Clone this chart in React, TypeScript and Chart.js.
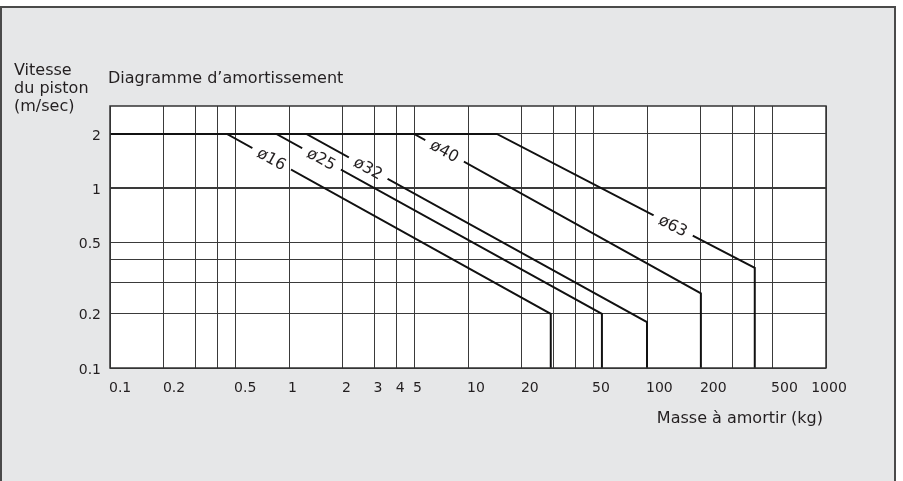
import React, { useEffect, useRef } from "react";
import { Chart, registerables } from "chart.js";

Chart.register(...registerables);

// ---- Data ----
const massGrid = [0.1, 0.2, 0.3, 0.4, 0.5, 1, 2, 3, 4, 5, 10, 20, 30, 40, 50, 100, 200, 300, 400, 500, 1000];
const massLabelValues = [0.1, 0.2, 0.5, 1, 2, 3, 4, 5, 10, 20, 50, 100, 200, 500, 1000];
const massLabelTexts = ["0.1", "0.2", "0.5", "1", "2", "3", "4", "5", "10", "20", "50", "100", "200", "500", "1000"];

const speedGrid = [0.1, 0.2, 0.3, 0.4, 0.5, 1, 2];
const speedLabelValues = [0.1, 0.2, 0.5, 1, 2];
const speedLabelTexts = ["0.1", "0.2", "0.5", "1", "2"];

const seriesNames = ["ø16", "ø25", "ø32", "ø40", "ø63"];
const maxSpeed = [2, 2, 2, 2, 2];
const plateauEndMass = [0.45, 0.85, 1.25, 5, 14.5];
const endMass = [29, 56, 100, 200, 400];
const endSpeed = [0.2, 0.2, 0.18, 0.26, 0.36];
const minSpeed = [0.1, 0.1, 0.1, 0.1, 0.1];
const labelMass = [0.8, 1.52, 2.77, 7.4, 140];

const FONT = "'DejaVu Sans', sans-serif";
const TEXT = "#231f20";

function lineGeom(chart: any, i: number) {
  const xs = chart.scales.x;
  const ys = chart.scales.y;
  const lx1 = Math.log10(plateauEndMass[i]);
  const lx2 = Math.log10(endMass[i]);
  const ly1 = Math.log10(maxSpeed[i]);
  const ly2 = Math.log10(endSpeed[i]);
  const t = (Math.log10(labelMass[i]) - lx1) / (lx2 - lx1);
  const v = Math.pow(10, ly1 + t * (ly2 - ly1));
  const cx = xs.getPixelForValue(labelMass[i]);
  const cy = ys.getPixelForValue(v);
  const ax = xs.getPixelForValue(plateauEndMass[i]);
  const ay = ys.getPixelForValue(maxSpeed[i]);
  const bx = xs.getPixelForValue(endMass[i]);
  const by = ys.getPixelForValue(endSpeed[i]);
  const angle = Math.atan2(by - ay, bx - ax);
  return { cx, cy, angle };
}

const LABEL_FONT = `16px ${FONT}`;

const decorPlugin = {
  id: "decor",
  beforeDraw(chart: any) {
    const { ctx, width, height, chartArea } = chart;
    ctx.save();
    ctx.fillStyle = "#ffffff";
    ctx.fillRect(0, 0, width, height);
    ctx.fillStyle = "#e6e7e8";
    ctx.fillRect(0, 6, 896, height - 6);
    ctx.strokeStyle = "#4a4a4a";
    ctx.lineWidth = 2;
    ctx.beginPath();
    ctx.moveTo(1, height + 2);
    ctx.lineTo(1, 7);
    ctx.lineTo(895, 7);
    ctx.lineTo(895, height + 2);
    ctx.stroke();
    ctx.fillStyle = "#ffffff";
    ctx.fillRect(chartArea.left, chartArea.top, chartArea.right - chartArea.left, chartArea.bottom - chartArea.top);
    ctx.restore();
  },
  beforeDatasetsDraw(chart: any) {
    const { ctx, width, height } = chart;
    ctx.save();
    ctx.font = LABEL_FONT;
    ctx.beginPath();
    ctx.rect(0, 0, width, height);
    for (let i = 0; i < seriesNames.length; i++) {
      const { cx, cy, angle } = lineGeom(chart, i);
      const w = ctx.measureText(seriesNames[i]).width / 2 + 7;
      const h = 5;
      const ux = Math.cos(angle), uy = Math.sin(angle);
      const nx = -uy, ny = ux;
      ctx.moveTo(cx - ux * w - nx * h, cy - uy * w - ny * h);
      ctx.lineTo(cx + ux * w - nx * h, cy + uy * w - ny * h);
      ctx.lineTo(cx + ux * w + nx * h, cy + uy * w + ny * h);
      ctx.lineTo(cx - ux * w + nx * h, cy - uy * w + ny * h);
      ctx.closePath();
    }
    ctx.clip("evenodd");
  },
  afterDatasetsDraw(chart: any) {
    const { ctx, chartArea } = chart;
    ctx.restore();
    ctx.save();
    // plot frame
    ctx.strokeStyle = "#333333";
    ctx.lineWidth = 1.5;
    ctx.strokeRect(chartArea.left, chartArea.top, chartArea.right - chartArea.left, chartArea.bottom - chartArea.top);
    // series labels
    ctx.font = LABEL_FONT;
    ctx.fillStyle = TEXT;
    ctx.textAlign = "center";
    ctx.textBaseline = "middle";
    for (let i = 0; i < seriesNames.length; i++) {
      const { cx, cy, angle } = lineGeom(chart, i);
      ctx.save();
      ctx.translate(cx, cy);
      ctx.rotate(angle);
      ctx.fillText(seriesNames[i], 0, 1);
      ctx.restore();
    }
    ctx.restore();
  },
  afterDraw(chart: any) {
    const { ctx, chartArea } = chart;
    const xs = chart.scales.x;
    const ys = chart.scales.y;
    ctx.save();
    ctx.fillStyle = TEXT;
    ctx.font = `14px ${FONT}`;
    // x tick labels
    ctx.textBaseline = "alphabetic";
    for (let i = 0; i < massLabelValues.length; i++) {
      const px = xs.getPixelForValue(massLabelValues[i]);
      const last = i === massLabelValues.length - 1;
      ctx.textAlign = last ? "center" : "left";
      ctx.fillText(massLabelTexts[i], last ? px + 3 : px - 1, chartArea.bottom + 24);
    }
    // y tick labels
    ctx.textAlign = "right";
    ctx.textBaseline = "middle";
    for (let i = 0; i < speedLabelValues.length; i++) {
      const py = ys.getPixelForValue(speedLabelValues[i]);
      ctx.fillText(speedLabelTexts[i], chartArea.left - 9, py + 2);
    }
    // titles
    ctx.font = `16px ${FONT}`;
    ctx.textAlign = "left";
    ctx.textBaseline = "alphabetic";
    ctx.fillText("Vitesse", 14, 75);
    ctx.fillText("du piston", 14, 93);
    ctx.fillText("(m/sec)", 14, 111);
    ctx.fillText("Diagramme d’amortissement", 108, 83);
    ctx.textAlign = "right";
    ctx.fillText("Masse à amortir (kg)", 823, 423);
    ctx.restore();
  },
};

export default function App() {
  const ref = useRef<HTMLCanvasElement>(null);
  useEffect(() => {
    document.body.style.margin = "0";
    const datasets = seriesNames.map((name, i) => ({
      label: name,
      data: [
        { x: massGrid[0], y: maxSpeed[i] },
        { x: plateauEndMass[i], y: maxSpeed[i] },
        { x: endMass[i], y: endSpeed[i] },
        { x: endMass[i], y: minSpeed[i] },
      ],
      borderColor: "#111111",
      borderWidth: 2,
      pointRadius: 0,
      fill: false,
      tension: 0,
      borderJoinStyle: "miter" as const,
    }));
    const chart = new Chart(ref.current as HTMLCanvasElement, {
      type: "line",
      data: { datasets },
      plugins: [decorPlugin],
      options: {
        animation: false,
        responsive: false,
        devicePixelRatio: 1,
        layout: { padding: { top: 106, right: 77, left: 0, bottom: 0 } },
        plugins: { legend: { display: false }, tooltip: { enabled: false }, title: { display: false } },
        scales: {
          x: {
            type: "logarithmic",
            min: 0.1,
            max: 1000,
            afterBuildTicks: (s: any) => {
              s.ticks = massGrid.map((v) => ({ value: v }));
            },
            afterFit: (s: any) => {
              s.height = 113;
            },
            ticks: { display: false },
            border: { display: false },
            grid: { color: "#3a3a3a", lineWidth: 1, drawTicks: false },
          },
          y: {
            type: "logarithmic",
            min: 0.1,
            max: 2.86,
            afterBuildTicks: (s: any) => {
              s.ticks = speedGrid.map((v) => ({ value: v }));
            },
            afterFit: (s: any) => {
              s.width = 110;
            },
            ticks: { display: false },
            border: { display: false },
            grid: {
              color: "#3a3a3a",
              drawTicks: false,
              lineWidth: (c: any) => (c.tick && c.tick.value === 1 ? 2 : 1),
            },
          },
        },
      },
    });
    return () => chart.destroy();
  }, []);
  return (
    <div style={{ width: 903, height: 481 }}>
      <canvas ref={ref} width={903} height={481} style={{ display: "block" }} />
    </div>
  );
}
